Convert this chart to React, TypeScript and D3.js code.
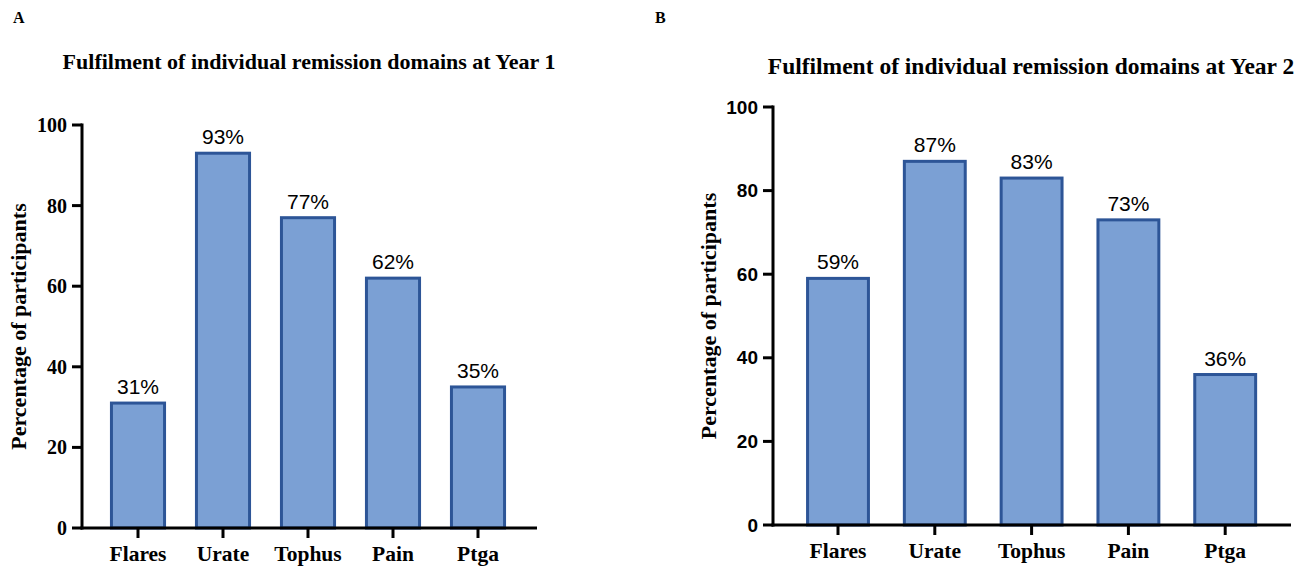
import React from "react";
import * as d3 from "d3";

const categories = ["Flares", "Urate", "Tophus", "Pain", "Ptga"];
const year1Values = [31, 93, 77, 62, 35];
const year2Values = [59, 87, 83, 73, 36];
const yTicks = [0, 20, 40, 60, 80, 100];

const SERIF = "'Liberation Serif', 'Times New Roman', serif";
const SANS = "'Liberation Sans', Arial, sans-serif";

type PanelProps = {
  letter: string;
  letterX: number;
  title: string;
  titleX: number;
  titleY: number;
  titleSize: number;
  values: number[];
  axisX: number;
  axisEnd: number;
  bandStart: number;
  bandEnd: number;
  y0: number;
  y100: number;
  tickFont: string;
  tickSize: number;
  labelX: number;
};

function Panel(p: PanelProps) {
  const x = d3.scaleBand<string>().domain(categories).range([p.bandStart, p.bandEnd]).paddingInner(0.34).paddingOuter(0.17);
  const y = d3.scaleLinear().domain([0, 100]).range([p.y0, p.y100]);
  return (
    <g>
      <text x={p.letterX} y={23} fontFamily={SERIF} fontWeight="bold" fontSize={16}>{p.letter}</text>
      <text x={p.titleX} y={p.titleY} textAnchor="middle" fontFamily={SERIF} fontWeight="bold" fontSize={p.titleSize}>{p.title}</text>
      <text transform={`translate(${p.labelX},${(p.y0 + p.y100) / 2}) rotate(-90)`} textAnchor="middle" fontFamily={SERIF} fontWeight="bold" fontSize={22}>Percentage of participants</text>
      {categories.map((c, i) => {
        const v = p.values[i];
        const bx = x(c)!;
        const bw = x.bandwidth();
        return (
          <g key={c}>
            <rect x={bx + 1.5} y={y(v)} width={bw - 3} height={y(0) - y(v)} fill="#7ba0d4" stroke="#2d5597" strokeWidth={3} />
            <text x={bx + bw / 2} y={y(v) - 9} textAnchor="middle" fontFamily={SANS} fontSize={21}>{v}%</text>
            <line x1={bx + bw / 2} x2={bx + bw / 2} y1={y(0)} y2={y(0) + 10} stroke="#000" strokeWidth={3} />
            <text x={bx + bw / 2} y={y(0) + 33} textAnchor="middle" fontFamily={SERIF} fontWeight="bold" fontSize={21.5}>{c}</text>
          </g>
        );
      })}
      <line x1={p.axisX} x2={p.axisX} y1={y(100) - 1.5} y2={y(0) + 1.5} stroke="#000" strokeWidth={3} />
      <line x1={p.axisX - 1.5} x2={p.axisEnd} y1={y(0)} y2={y(0)} stroke="#000" strokeWidth={3} />
      {yTicks.map((t) => (
        <g key={t}>
          <line x1={p.axisX - 10} x2={p.axisX} y1={y(t)} y2={y(t)} stroke="#000" strokeWidth={3} />
          <text x={p.axisX - 15} y={y(t)} dy="0.35em" textAnchor="end" fontFamily={p.tickFont} fontWeight="bold" fontSize={p.tickSize}>{t}</text>
        </g>
      ))}
    </g>
  );
}

export default function App() {
  return (
    <svg width={1302} height={567} style={{ position: "absolute", left: 0, top: 0, background: "#fff" }}>
      <Panel letter="A" letterX={13} title="Fulfilment of individual remission domains at Year 1" titleX={309} titleY={69} titleSize={22}
        values={year1Values} axisX={82} axisEnd={537} bandStart={95.5} bandEnd={520.5} y0={528} y100={125} tickFont={SERIF} tickSize={20} labelX={26} />
      <Panel letter="B" letterX={655} title="Fulfilment of individual remission domains at Year 2" titleX={1031} titleY={74} titleSize={23.5}
        values={year2Values} axisX={773} axisEnd={1291} bandStart={789.6} bandEnd={1273.6} y0={525} y100={107} tickFont={SANS} tickSize={19} labelX={716} />
    </svg>
  );
}
